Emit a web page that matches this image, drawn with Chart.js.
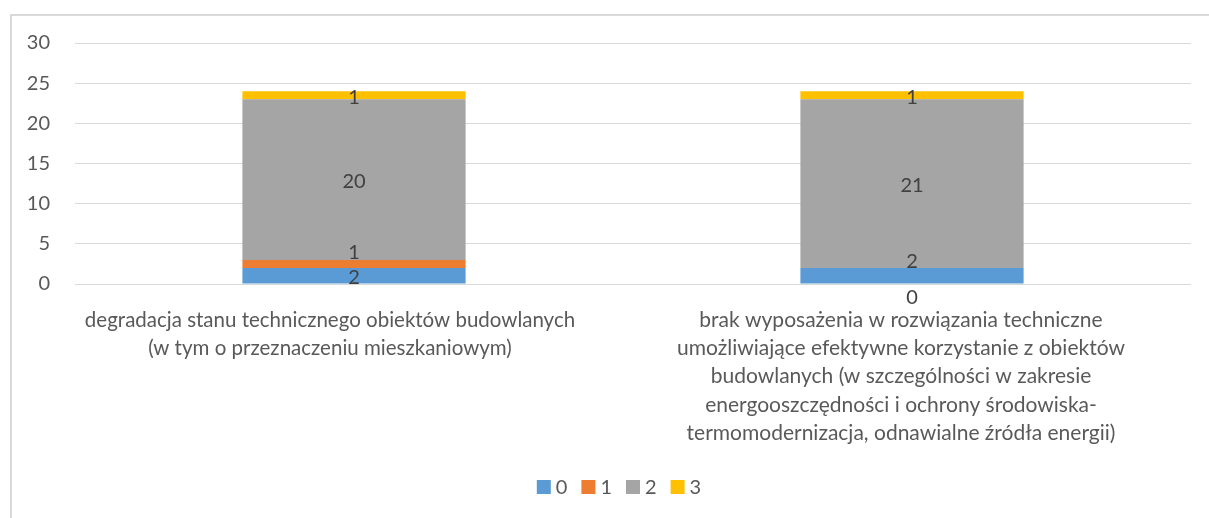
<!DOCTYPE html>
<html>
<head>
<meta charset="utf-8">
<style>
  html, body { margin: 0; padding: 0; background: #ffffff; }
  #wrap { position: relative; width: 1209px; height: 518px; }
</style>
<script src="https://cdn.jsdelivr.net/npm/chart.js@4.4.1/dist/chart.umd.min.js"></script>
</head>
<body>
<div id="wrap"><canvas id="chart" width="1209" height="518"></canvas></div>
<script>
// Categories (multi-line labels as drawn under the axis)
const categories = [
  ['degradacja stanu technicznego obiektów budowlanych', '(w tym o przeznaczeniu mieszkaniowym)'],
  ['brak wyposażenia w rozwiązania techniczne',
   'umożliwiające efektywne korzystanie z obiektów',
   'budowlanych (w szczególności w zakresie',
   'energooszczędności i ochrony środowiska-',
   'termomodernizacja, odnawialne źródła energii)']
];

// Series (rating levels 0–3)
const seriesNames = ['0', '1', '2', '3'];
const values0 = [2, 2];
const values1 = [1, 0];
const values2 = [20, 21];
const values3 = [1, 1];

const yTicks = [0, 5, 10, 15, 20, 25, 30];

const colors = ['#5B9BD5', '#ED7D31', '#A5A5A5', '#FFC000'];
const FONT = 'Lato, "Open Sans", "DejaVu Sans", sans-serif';
const TEXT = '#595959';

// Layout tweaks for the drawn text
const labelNudge = { '1-0': -13, '0-1': -16, '1-1': 28 };   // value labels that would collide
const categoryShiftX = [-24, -11];                            // horizontal shift of category text
const CAT_FONT = [20.5, 21], CAT_LINE = 28.3, CAT_TOP = 36;

const frameBorder = {
  id: 'frameBorder',
  beforeDraw(chart) {
    const ctx = chart.ctx;
    ctx.save();
    ctx.strokeStyle = '#D9D9D9';
    ctx.lineWidth = 2;
    ctx.strokeRect(11, 15, 1400, 700);
    ctx.restore();
  }
};

// Value labels centred in each stacked segment
const valueLabels = {
  id: 'valueLabels',
  afterDatasetsDraw(chart) {
    const ctx = chart.ctx;
    ctx.save();
    ctx.font = '20px ' + FONT;
    ctx.fillStyle = '#404040';
    ctx.textAlign = 'center';
    ctx.textBaseline = 'middle';
    chart.data.datasets.forEach((ds, di) => {
      const meta = chart.getDatasetMeta(di);
      meta.data.forEach((bar, i) => {
        const v = ds.data[i];
        if (v === null || v === undefined) return;
        const yc = (bar.y + bar.base) / 2;
        const n = labelNudge[di + '-' + i] || 0;
        ctx.fillText(String(v), bar.x, yc + 2 + n);
      });
    });
    ctx.restore();
  }
};

// Wrapped category text under the x axis
const categoryText = {
  id: 'categoryText',
  afterDraw(chart) {
    const ctx = chart.ctx;
    const xs = chart.scales.x;
    const bottom = chart.chartArea.bottom;
    ctx.save();
    ctx.fillStyle = TEXT;
    ctx.textAlign = 'center';
    ctx.textBaseline = 'middle';
    chart.data.labels.forEach((lines, i) => {
      ctx.font = CAT_FONT[i] + 'px ' + FONT;
      const x = xs.getPixelForTick(i) + (categoryShiftX[i] || 0);
      lines.forEach((line, k) => {
        ctx.fillText(line, x, bottom + CAT_TOP + k * CAT_LINE);
      });
    });
    ctx.restore();
  }
};

// Legend row: square swatch followed by the series name
const legendRow = {
  id: 'legendRow',
  afterDraw(chart) {
    const ctx = chart.ctx;
    const ds = chart.data.datasets;
    const box = 14, gapText = 5, gapItem = 14, cy = 487;
    ctx.save();
    ctx.font = '20px ' + FONT;
    ctx.textBaseline = 'middle';
    ctx.textAlign = 'left';
    const widths = ds.map(d => box + gapText + ctx.measureText(d.label).width);
    const total = widths.reduce((a, b) => a + b, 0) + gapItem * (ds.length - 1);
    let x = 619 - total / 2;
    ds.forEach((d, k) => {
      ctx.fillStyle = d.backgroundColor;
      ctx.fillRect(x, cy - box / 2, box, box);
      ctx.fillStyle = TEXT;
      ctx.fillText(d.label, x + box + gapText, cy + 1);
      x += widths[k] + gapItem;
    });
    ctx.restore();
  }
};

const seriesValues = [values0, values1, values2, values3];

new Chart(document.getElementById('chart'), {
  type: 'bar',
  data: {
    labels: categories,
    datasets: seriesNames.map((name, k) => ({
      label: name,
      data: seriesValues[k],
      backgroundColor: colors[k],
      borderWidth: 0,
      barPercentage: 0.4,
      categoryPercentage: 1.0
    }))
  },
  options: {
    responsive: false,
    animation: false,
    layout: { padding: { left: 0, top: 43, right: 18, bottom: 0 } },
    plugins: {
      tooltip: { enabled: false },
      legend: { display: false }
    },
    scales: {
      x: {
        stacked: true,
        grid: { display: false, drawTicks: false },
        border: { display: false },
        ticks: { display: false },
        afterFit(scale) { scale.height = 234; }
      },
      y: {
        stacked: true,
        min: 0,
        max: 30,
        afterBuildTicks(scale) { scale.ticks = yTicks.map(v => ({ value: v })); },
        grid: { color: '#D9D9D9', lineWidth: 1, drawTicks: false },
        border: { display: false },
        ticks: {
          color: TEXT,
          font: { family: FONT, size: 20 },
          padding: 25
        },
        afterFit(scale) { scale.width = 75; }
      }
    }
  },
  plugins: [frameBorder, valueLabels, categoryText, legendRow]
});
</script>
</body>
</html>
